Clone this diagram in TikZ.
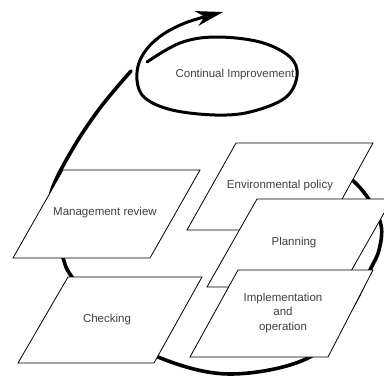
\documentclass[tikz,border=0pt]{standalone}
\usepackage{fontspec}
\setmainfont{Liberation Sans}
\usetikzlibrary{arrows.meta}
\begin{document}
\begin{tikzpicture}[x=1pt,y=-1pt,
  box/.style={draw=black,line width=0.8pt,fill=white,line join=miter},
  loopline/.style={line width=3.6pt,line cap=round},
  lbl/.style={font=\fontsize{11.5}{14.5}\selectfont,text=black!75,align=center}]
\useasboundingbox (0,0) rectangle (384,376);
% big cycle
\draw[loopline] plot[smooth,tension=0.6] coordinates {(330,166) (350,178) (368,198) (381,225) (379,250) (370,270) (350,310) (310,357) (230,374) (158,357) (110,325) (72,277) (63,258) (53,225) (51,193) (72,150) (100,108) (131,71)};
% continual improvement spiral with arrow
\draw[loopline,line width=3pt,-{Stealth[length=27pt,width=15pt,inset=8pt]}] plot[smooth,tension=0.6] coordinates {(147,62) (180,43) (215,37) (260,42) (290,57) (297,76) (285,98) (250,112) (215,115) (172,110) (145,98) (137,80) (141,58) (158,38) (185,23) (223,12)};
% boxes
\draw[box] (236,143) -- (373,143) -- (325,230) -- (187,230) -- cycle;
\draw[box] (257,199) -- (392,199) -- (342,287) -- (207,287) -- cycle;
\draw[box] (238,270) -- (373,270) -- (328,357) -- (190,357) -- cycle;
\draw[box] (63,170) -- (200,170) -- (150,258) -- (13,258) -- cycle;
\draw[box] (68,277) -- (202,277) -- (154,363) -- (18,363) -- cycle;
% labels
\node[lbl] (ci) at (235,75) {Continual Improvement};
\node[lbl] (env) at (280,186) {Environmental policy};
\node[lbl] (plan) at (294,243) {Planning};
\node[lbl] (impl) at (283,313) {Implementation\\and\\operation};
\node[lbl] (mgmt) at (105,213) {Management review};
\node[lbl] (chk) at (107,320) {Checking};
\end{tikzpicture}
\end{document}
